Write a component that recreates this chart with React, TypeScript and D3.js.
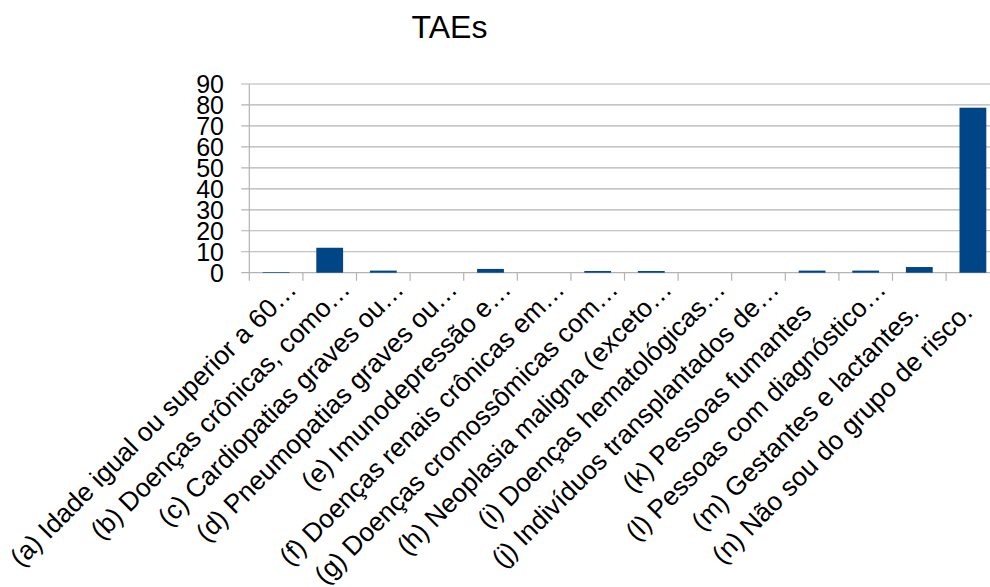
import React from "react";
import * as d3 from "d3";

const title = "TAEs";
const categories = [
  "(a) Idade igual ou superior a 60…",
  "(b) Doenças crônicas, como…",
  "(c) Cardiopatias graves ou…",
  "(d) Pneumopatias graves ou…",
  "(e) Imunodepressão e…",
  "(f) Doenças renais crônicas em…",
  "(g) Doenças cromossômicas com…",
  "(h) Neoplasia maligna (exceto…",
  "(i) Doenças hematológicas…",
  "(j) Indivíduos transplantados de…",
  "(k) Pessoas fumantes",
  "(l) Pessoas com diagnóstico…",
  "(m) Gestantes e lactantes.",
  "(n) Não sou do grupo de risco.",
];
const values = [0.3, 11.9, 1, 0, 1.8, 0, 0.8, 0.8, 0, 0, 1, 1, 2.7, 78.7];
const yTicks = [0, 10, 20, 30, 40, 50, 60, 70, 80, 90];

const W = 990;
const H = 587;
const M = { left: 249.3, right: 999.7, top: 84, bottom: 272.7 };
const FONT = "'Liberation Sans', Arial, sans-serif";

export default function App() {
  const x = d3
    .scaleBand<string>()
    .domain(categories)
    .range([M.left, M.right])
    .padding(0);
  const y = d3.scaleLinear().domain([0, 90]).range([M.bottom, M.top]);
  const bw = x.bandwidth() * 0.5;
  const boundaries = categories.map((c) => x(c) as number).concat([M.right]);

  return (
    <svg
      width={W}
      height={H}
      style={{ position: "absolute", left: 0, top: 0, background: "#fff" }}
      fontFamily={FONT}
    >
      <rect x={0} y={0} width={W} height={H} fill="#fff" />
      <text x={449.5} y={38} textAnchor="middle" fontSize={32} fill="#000">
        {title}
      </text>
      {yTicks.map((t) => (
        <g key={t}>
          <line
            x1={M.left - 8}
            x2={M.right}
            y1={y(t)}
            y2={y(t)}
            stroke="#b3b3b3"
            strokeWidth={1.2}
          />
          <text
            x={224}
            y={y(t)}
            dy="0.36em"
            textAnchor="end"
            fontSize={25}
            fill="#000"
          >
            {t}
          </text>
        </g>
      ))}
      <line
        x1={M.left}
        x2={M.left}
        y1={M.top}
        y2={M.bottom + 8}
        stroke="#b3b3b3"
        strokeWidth={1.2}
      />
      {boundaries.slice(1, -1).map((b, i) => (
        <line
          key={i}
          x1={b}
          x2={b}
          y1={M.bottom}
          y2={M.bottom + 8}
          stroke="#b3b3b3"
          strokeWidth={1.2}
        />
      ))}
      {categories.map((c, i) => {
        const cx = (x(c) as number) + x.bandwidth() / 2;
        const h = y(0) - y(values[i]);
        return (
          <rect
            key={c}
            x={cx - bw / 2}
            y={y(values[i])}
            width={bw}
            height={Math.max(0, h)}
            fill="#004586"
          />
        );
      })}
      {categories.map((c) => {
        const cx = (x(c) as number) + x.bandwidth() / 2;
        const trunc = c.endsWith("…");
        const px = cx + (trunc ? 22 : 1);
        const py = trunc ? 291 : 314;
        return (
          <text
            key={c}
            transform={`translate(${px},${py}) rotate(-45)`}
            textAnchor="end"
            fontSize={26.3}
            fill="#000"
          >
            {c}
          </text>
        );
      })}
    </svg>
  );
}
